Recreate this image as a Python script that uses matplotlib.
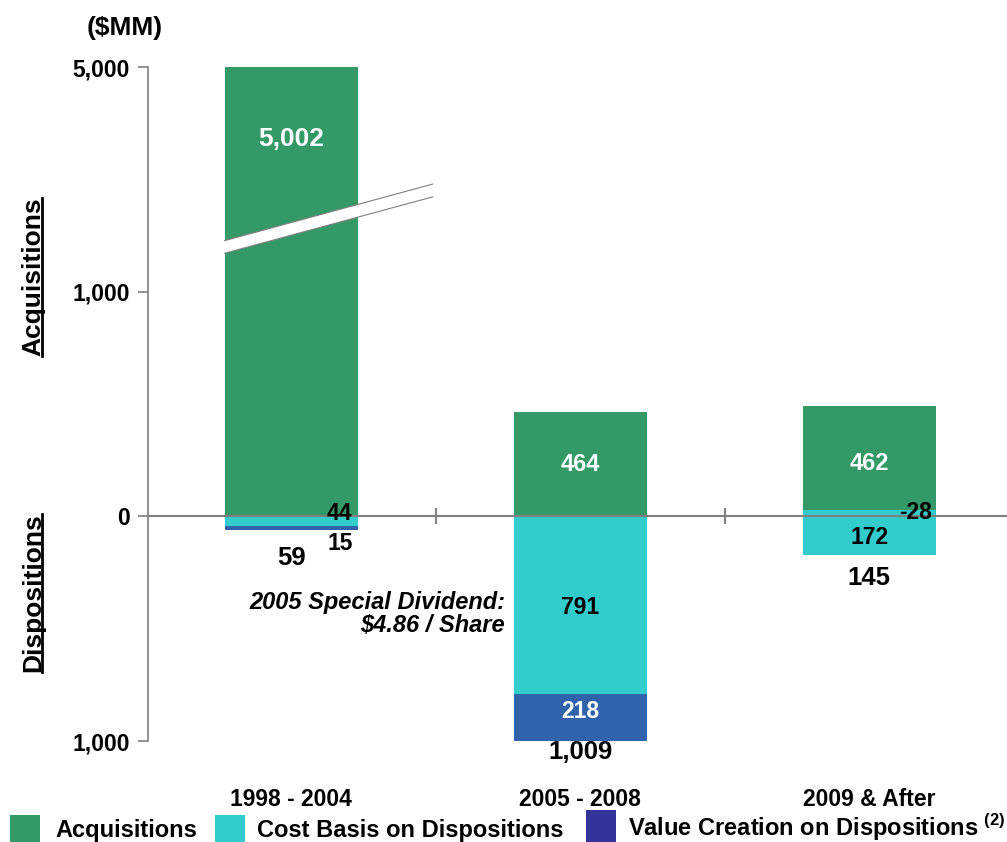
import numpy as np
import matplotlib
matplotlib.use("Agg")
import matplotlib.pyplot as plt
from matplotlib.patches import Rectangle, Polygon
from matplotlib.lines import Line2D

plt.rcParams['font.family'] = ['Liberation Sans', 'DejaVu Sans']
plt.rcParams['font.weight'] = 'bold'
plt.rcParams['mathtext.fontset'] = 'custom'
plt.rcParams['mathtext.rm'] = 'Liberation Sans:bold'
plt.rcParams['mathtext.bf'] = 'Liberation Sans:bold'

# data ($MM)
periods = ['1998 - 2004', '2005 - 2008', '2009 & After']
acquisitions = [5002, 464, 462]
cost_basis = [44, 791, 172]
value_creation = [15, 218, -28]
dispositions = [59, 1009, 145]
tick_values = [-1000, 0, 1000, 5000]

# label layout (data units on the drawn scale)
acq_label_y = [1680, 232, 236]
cost_label_xy = [(0.21, 13, 'right'), (0, -405, 'center'), (0, -93, 'center')]
vc_label_xy = [(0.17, -120, 'center'), (0, -868, 'center'), (0.218, 18, 'right')]
total_label_y = [-187, -1050, -276]

GREEN = '#339966'
CYAN = '#33CCCC'
BLUE = '#3163AC'
NAVY = '#333399'
GRAY = '#808080'

BREAK = 1000
SQUEEZE = 4


def squash(v):
    # axis is broken above 1,000: 1,000 -> 5,000 drawn in one 1,000 step
    return v if v <= BREAK else BREAK + (v - BREAK) / SQUEEZE


W, H = 1007, 842
fig = plt.figure(figsize=(W / 100, H / 100), dpi=100)
ax = fig.add_axes([148 / W, 0.11995, 1 - 148 / W, 0.8138])

x = np.arange(len(periods))
w = 0.46
for i in x:
    cb, vc = cost_basis[i], value_creation[i]
    ax.bar(i, -cb, w, color=CYAN, zorder=2)
    up = 0
    if vc > 0:
        ax.bar(i, -vc, w, bottom=-cb, color=BLUE, zorder=2)
    else:
        up = -vc
        ax.bar(i, up, w, color=CYAN, zorder=2)
    ax.bar(i, squash(acquisitions[i] + up) - up, w, bottom=up, color=GREEN, zorder=2)

# break marker across the first bar
bx0, bx1 = -w / 2, 0.49
band = Polygon([(bx0, 1171), (bx1, 1422), (bx1, 1479), (bx0, 1227)],
               closed=True, facecolor='white', edgecolor='none', zorder=3)
ax.add_patch(band)
ax.plot([bx0, bx1], [1227, 1479], color=GRAY, lw=0.8, zorder=4)
ax.plot([bx0, bx1], [1171, 1422], color=GRAY, lw=0.8, zorder=4)

# zero line with separators
ax.axhline(0, color=GRAY, lw=1.5, zorder=5)
ax.vlines(x[:-1] + 0.5, -35, 35, color=GRAY, lw=1.5, zorder=5)

# value labels
for i in x:
    ax.text(i, acq_label_y[i], f"{acquisitions[i]:,}", color='white',
            fontsize=19 if acquisitions[i] > BREAK else 17,
            ha='center', va='center', zorder=6)
    dx, yy, ha = cost_label_xy[i]
    ax.text(i + dx, yy, f"{cost_basis[i]:,}", color='black', fontsize=16.5,
            ha=ha, va='center', zorder=6)
    dx, yy, ha = vc_label_xy[i]
    ax.text(i + dx, yy, f"{value_creation[i]:,}",
            color='white' if value_creation[i] > 100 else 'black',
            fontsize=16.5, ha=ha, va='center', zorder=6)
    ax.text(i, total_label_y[i], f"{dispositions[i]:,}", color='black',
            fontsize=18.5, ha='center', va='center', zorder=6)

ax.text(0.74, -436, "2005 Special Dividend:\n\\$4.86 / Share", ha='right',
        va='center', style='italic', fontsize=17, linespacing=1.0, zorder=6)

ax.set_xlim(-0.495, 2.477)
ax.set_ylim(-1000, 2050)
for s in ['top', 'right', 'bottom']:
    ax.spines[s].set_visible(False)
ax.spines['left'].set_bounds(-1000, 2000)
ax.spines['left'].set_color(GRAY)
ax.spines['left'].set_linewidth(1.2)
ax.set_yticks([v if v <= 0 else squash(v) for v in tick_values],
              [f"{abs(v):,}" for v in tick_values])
ax.tick_params(axis='y', direction='out', length=7, width=1.2, color=GRAY,
               labelsize=16.5, pad=6)
ax.set_xticks(x, periods)
ax.tick_params(axis='x', length=0, labelsize=16.5, pad=34)


def px(a, b):
    return a / W, 1 - b / H


fig.text(*px(125, 28), "(\\$MM)", fontsize=19, ha='center', va='center')
side = [fig.text(*px(40.5, 277), "Acquisitions", fontsize=19, rotation=90,
                 ha='center', va='baseline', rotation_mode='anchor'),
        fig.text(*px(40.5, 593), "Dispositions", fontsize=19, rotation=90,
                 ha='center', va='baseline', rotation_mode='anchor')]
fig.canvas.draw()
for t in side:
    bb = t.get_window_extent()
    fig.add_artist(Line2D([42 / W, 42 / W], [bb.y0 / H, bb.y1 / H],
                          color='black', lw=2, transform=fig.transFigure))

# legend
leg = [(10, 815, GREEN, 55, 831, "Acquisitions"),
       (215, 815, CYAN, 257, 831, "Cost Basis on Dispositions"),
       (586, 810, NAVY, 628, 827, "Value Creation on Dispositions $^{(2)}$")]
for sx, sy, c, tx, ty, lab in leg:
    fig.add_artist(Rectangle((sx / W, 1 - (sy + 32) / H), 30 / W, 32 / H,
                             facecolor=c, edgecolor='none',
                             transform=fig.transFigure))
    fig.text(*px(tx, ty), lab, fontsize=17, ha='left', va='center')

fig.savefig('out.png', dpi=100)
